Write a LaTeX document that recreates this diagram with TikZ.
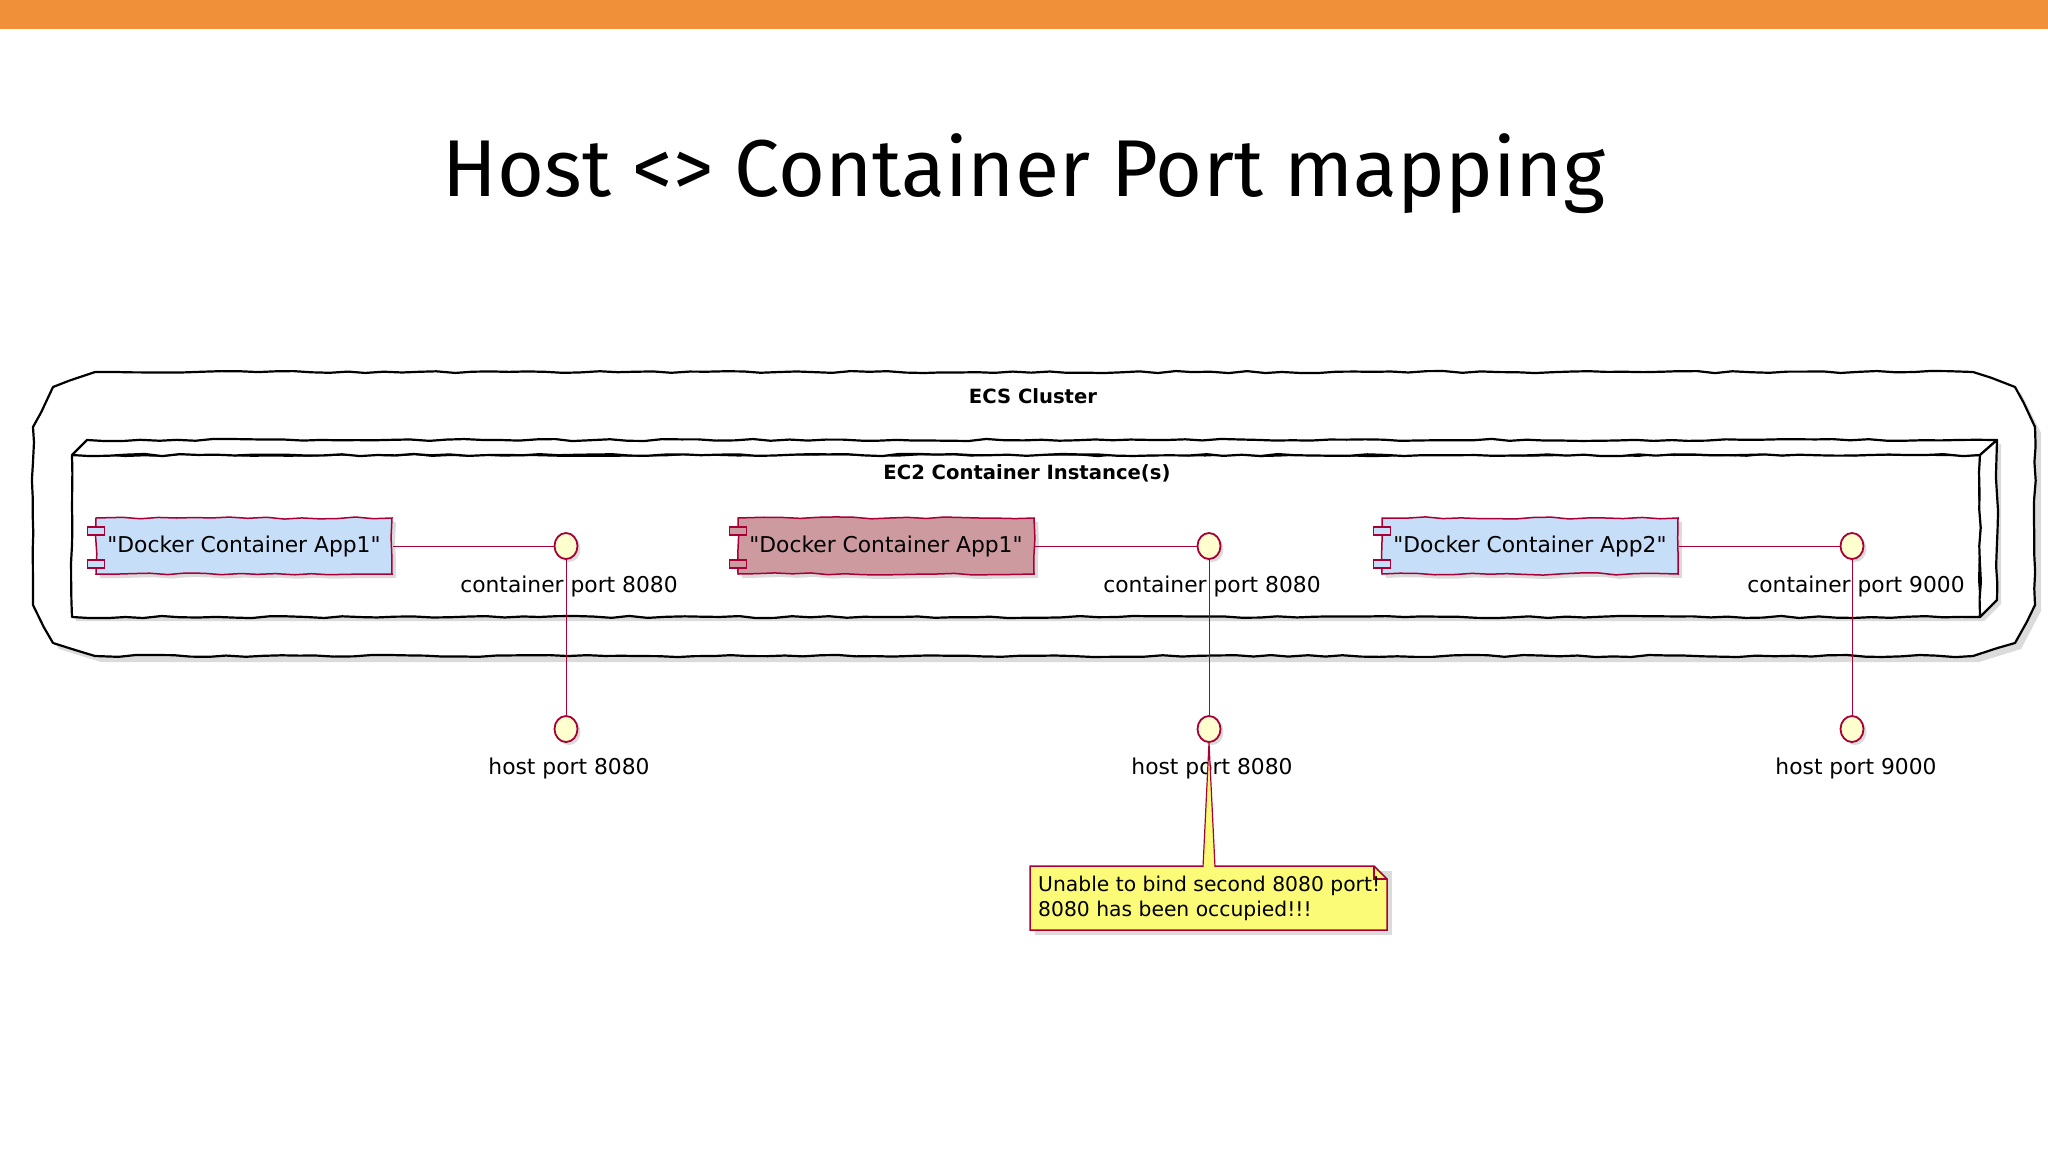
\documentclass[tikz,border=0pt]{standalone}
\usepackage{fontspec}
\setmainfont{DejaVu Sans}[Ligatures=TeXOff]
\newfontfamily\titlefont{Fira Sans}
\usetikzlibrary{shadows,decorations.pathmorphing,shapes.geometric,calc}
\definecolor{orangebar}{HTML}{F0913A}
\definecolor{umlred}{HTML}{A80036}
\definecolor{compblue}{HTML}{C6DEF7}
\definecolor{comprose}{HTML}{CD9AA0}
\definecolor{ifacefill}{HTML}{FEFECE}
\definecolor{notefill}{HTML}{FBFB77}
\begin{document}
\begin{tikzpicture}[x=1pt,y=-1pt,
  sketch/.style={decorate,decoration={random steps,segment length=18pt,amplitude=1.1pt}},
  frame/.style={draw=black,line width=2.2pt,line join=round,sketch},
  shade/.style={fill=black,opacity=0.14},
  comp/.style={draw=umlred,line width=1.5pt,fill=compblue,minimum width=296pt,minimum height=56pt,inner sep=0pt,
    font=\fontsize{21.8}{26}\selectfont,sketch,drop shadow={shadow xshift=4pt,shadow yshift=-4pt,opacity=0.28}},
  tab/.style={draw=umlred,line width=1.2pt,fill=compblue},
  iface/.style={ellipse,draw=umlred,line width=1.8pt,fill=ifacefill,minimum width=23pt,minimum height=26pt,inner sep=0pt,
    drop shadow={shadow xshift=3pt,shadow yshift=-3pt,opacity=0.28}},
  conn/.style={draw=umlred,line width=1pt},
  lbl/.style={font=\fontsize{21.8}{26}\selectfont,inner sep=0pt},
  grp/.style={font=\bfseries\fontsize{19.6}{23}\selectfont,inner sep=0pt},
  notetxt/.style={font=\fontsize{20.3}{24.5}\selectfont,align=left,inner sep=0pt,anchor=north west}
]
\pgfmathsetseed{11}
\useasboundingbox (0,0) rectangle (2048,1152);
\fill[white] (0,0) rectangle (2048,1152);
\fill[orangebar] (0,0) rectangle (2048,29);
\node[font=\titlefont\fontsize{80.6}{96}\selectfont,anchor=base,inner sep=0pt] (title) at (1024,196) {Host <> Container Port mapping};

% ECS cluster frame
\begin{scope}[shift={(6,6)}]
\fill[shade] (95,372) -- (1973,372) -- (2015,387) -- (2035,427) -- (2035,605) -- (2015,643) -- (1973,656)
  -- (95,656) -- (53,643) -- (33,605) -- (33,427) -- (53,387) -- cycle;
\end{scope}
\draw[frame,fill=white] (95,372) -- (1973,372) -- (2015,387) -- (2035,427) -- (2035,605) -- (2015,643) -- (1973,656)
  -- (95,656) -- (53,643) -- (33,605) -- (33,427) -- (53,387) -- cycle;
\node[grp] (ecs) at (1033,396) {ECS Cluster};

% EC2 node (3D box)
\fill[shade] (76,621) -- (76,459) -- (2001,444) -- (2001,604) -- (1984,621) -- cycle;
\draw[frame,fill=white] (72,455) rectangle (1980,617);
\draw[frame,fill=white] (72,455) -- (87,440) -- (1997,440) -- (1980,455) -- cycle;
\draw[frame,fill=white] (1980,455) -- (1997,440) -- (1997,600) -- (1980,617) -- cycle;
\node[grp] (ec2) at (1027,473) {EC2 Container Instance(s)};

% components
\node[comp] (c1) at (244,546) {"Docker Container App1"};
\node[comp,fill=comprose] (c2) at (886,546) {"Docker Container App1"};
\node[comp] (c3) at (1530,546) {"Docker Container App2"};
\foreach \c/\f in {c1/compblue,c2/comprose,c3/compblue}{
  \draw[tab,fill=\f] ($(\c.west)+(-8,-19)$) rectangle ($(\c.west)+(9,-11)$);
  \draw[tab,fill=\f] ($(\c.west)+(-8,14)$) rectangle ($(\c.west)+(9,22)$);
}

% interfaces
\node[iface] (ci1) at (566,546) {};
\node[iface] (ci2) at (1209,546) {};
\node[iface] (ci3) at (1852,546) {};
\node[iface] (hp1) at (566,729) {};
\node[iface] (hp2) at (1209,729) {};
\node[iface] (hp3) at (1852,729) {};

\draw[conn] (c1.east) -- (ci1.west);
\draw[conn] (c2.east) -- (ci2.west);
\draw[conn] (c3.east) -- (ci3.west);
\draw[conn] (ci1.south) -- (hp1.north);
\draw[conn] (ci2.south) -- (hp2.north);
\draw[conn] (ci3.south) -- (hp3.north);

\node[lbl] (lc1) at (569,586) {container port 8080};
\node[lbl] (lc2) at (1212,586) {container port 8080};
\node[lbl] (lc3) at (1856,586) {container port 9000};
\node[lbl] (lh1) at (569,768) {host port 8080};
\node[lbl] (lh2) at (1212,768) {host port 8080};
\node[lbl] (lh3) at (1856,768) {host port 9000};

% note box
\coordinate (nnw) at (1030,866);
\coordinate (nse) at (1387,930);
\fill[shade] (1035,871) rectangle (1392,935);
\draw[draw=umlred,line width=1.5pt,fill=notefill] (nnw) -- (1374,866) -- (1387,879) -- (nse) -- (1030,930) -- cycle;
\draw[draw=umlred,line width=1.2pt] (1374,866) -- (1374,879) -- (1387,879);
\draw[draw=umlred,line width=1.2pt,fill=notefill] (1203,867) -- (hp2.south) -- (1215,867);
\node[notetxt] (note) at (1038,876) {Unable to bind second 8080 port!\\8080 has been occupied!!!};
\end{tikzpicture}
\end{document}
